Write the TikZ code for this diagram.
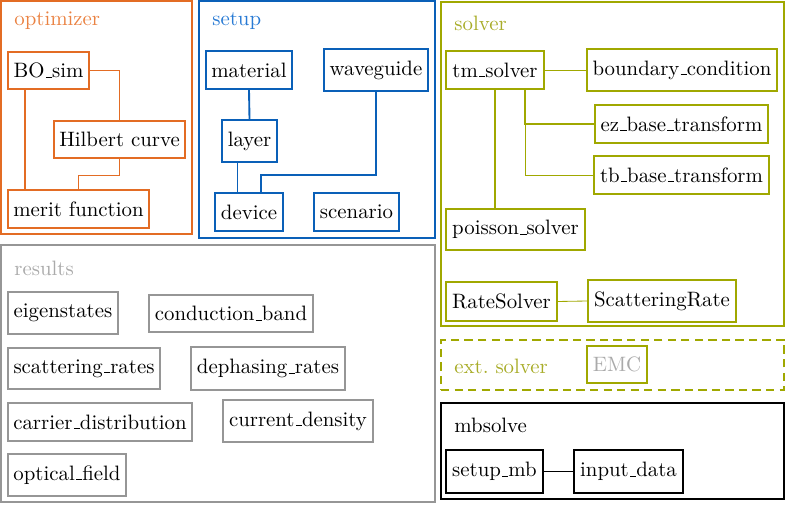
\documentclass[tikz,border=0pt]{standalone}
\definecolor{optc}{RGB}{227,108,36}
\definecolor{optt}{RGB}{234,130,66}
\definecolor{setc}{RGB}{10,96,184}
\definecolor{sett}{RGB}{40,122,212}
\definecolor{solc}{RGB}{160,168,0}
\definecolor{solt}{RGB}{168,172,40}
\definecolor{resc}{RGB}{150,150,150}
\definecolor{rest}{RGB}{170,170,170}
\newcommand\usc{\leavevmode\kern.06em\vbox{\hrule width.3em}}
\begin{document}
\begin{tikzpicture}[x=0.48pt,y=-0.48pt,
  sz/.style 2 args={minimum width=#1*0.48pt, minimum height=#2*0.48pt},
  grp/.style={draw, line width=0.8pt, inner sep=0pt},
  bx/.style={draw, line width=0.9pt, inner sep=0pt, text=black},
  tbx/.style={draw, semithick, inner sep=0pt, text=black},
  thk/.style={line width=0.9pt},
  ttl/.style={anchor=west, inner sep=0pt}]
\useasboundingbox (0,0) rectangle (786,505);

% ---------------- optimizer
\node[grp, draw=optc, sz={191}{233}] (optg) at (96.5,117.5) {};
\node[ttl, text=optt] (optl) at (14,21) {optimizer};
\node[bx, draw=optc, sz={81}{37}] (bo) at (48.5,70.5) {BO\usc sim};
\node[bx, draw=optc, sz={131}{37}] (hil) at (119.5,139.5) {Hilbert curve};
\node[bx, draw=optc, sz={141}{38}] (merit) at (78.5,209) {merit function};
\coordinate (xa) at (25,0);
\draw[optc, semithick] (bo.south -| xa) -- (merit.north -| xa);
\draw[optc, thk] (bo.east) -| (hil.north);
\draw[optc, thin] (hil.south) -- ++(0,16) -| (merit.north);

% ---------------- setup
\node[grp, draw=setc, sz={236}{237}] (setg) at (317,119.5) {};
\node[ttl, text=sett] (setl) at (212,21) {setup};
\node[tbx, draw=setc, sz={86}{38}] (mat) at (249,70) {material};
\node[bx, draw=setc, sz={104}{42}] (wg) at (376,70) {waveguide};
\node[bx, draw=setc, sz={55}{42}] (lay) at (249.5,141) {layer};
\node[bx, draw=setc, sz={68}{38}] (dev) at (249,212) {device};
\node[bx, draw=setc, sz={85}{38}] (scen) at (356.5,212) {scenario};
\draw[setc, thk] (mat.south) -- (lay.north);
\coordinate (xb) at (237,0);
\draw[setc, thin] (lay.south -| xb) -- (dev.north -| xb);
\coordinate (kb) at (261,175);
\draw[setc, thk] (wg.south) |- (kb) -- (dev.north -| kb);

% ---------------- solver
\node[grp, draw=solc, sz={343}{324}] (solg) at (612.5,164) {};
\node[ttl, text=solt] (soll) at (454,23) {solver};
\node[bx, draw=solc, sz={98}{38}] (tm) at (495,70) {tm\usc solver};
\node[bx, draw=solc, sz={190}{42}] (bc) at (682,70) {boundary\usc condition};
\node[bx, draw=solc, sz={173}{38}] (ez) at (681.5,124) {ez\usc base\usc transform};
\node[bx, draw=solc, sz={175}{38}] (tb) at (681.5,175) {tb\usc base\usc transform};
\node[bx, draw=solc, sz={139}{41}] (poi) at (515.5,229.5) {poisson\usc solver};
\node[tbx, draw=solc, sz={111}{39}] (rs) at (501.5,301.5) {RateSolver};
\node[bx, draw=solc, sz={148}{42}] (sr) at (662,301) {ScatteringRate};
\draw[solc, thin] (tm.east) -- (bc.west);
\coordinate (xs) at (525,124);
\draw[solc, thk] (tm.south -| xs) |- (ez.west);
\draw[solc, thin] (xs) |- (tb.west);
\coordinate (xp) at (495,0);
\draw[solc, semithick] (tm.south -| xp) -- (poi.north -| xp);
\draw[solc, thin] (rs.east) -- (sr.west);

% ---------------- ext. solver
\node[grp, draw=solc, dash pattern=on 4pt off 2.5pt, sz={343}{50}] (extg) at (612.5,365) {};
\node[ttl, text=solt] (extl) at (454,366) {ext.\ solver};
\node[bx, draw=solc, text=rest, sz={60}{37}] (emc) at (617,364.5) {EMC};

% ---------------- mbsolve
\node[grp, draw=black, sz={343}{96}] (mbg) at (612.5,451) {};
\node[ttl, text=black] (mbl) at (454,425) {mbsolve};
\node[bx, draw=black, sz={97}{43}] (smb) at (494.5,471.5) {setup\usc mb};
\node[tbx, draw=black, sz={109}{43}] (inp) at (628.5,471.5) {input\usc data};
\draw[black, thk] (smb.east) -- (inp.west);

% ---------------- results
\node[grp, draw=resc, sz={434}{257}] (resg) at (218,373.5) {};
\node[ttl, text=rest] (resl) at (14,268) {results};
\node[bx, draw=resc, sz={110}{42}] (eig) at (63,313) {eigenstates};
\node[bx, draw=resc, sz={164}{37}] (cb) at (231,313.5) {conduction\usc band};
\node[tbx, draw=resc, sz={152}{41}] (scr) at (84,368.5) {scattering\usc rates};
\node[bx, draw=resc, sz={154}{43}] (dph) at (268,368.5) {dephasing\usc rates};
\node[bx, draw=resc, sz={184}{38}] (cd) at (100,422) {carrier\usc distribution};
\node[bx, draw=resc, sz={150}{42}] (cur) at (298,421) {current\usc density};
\node[tbx, draw=resc, sz={118}{42}] (opt) at (67,475) {optical\usc field};
\end{tikzpicture}
\end{document}
